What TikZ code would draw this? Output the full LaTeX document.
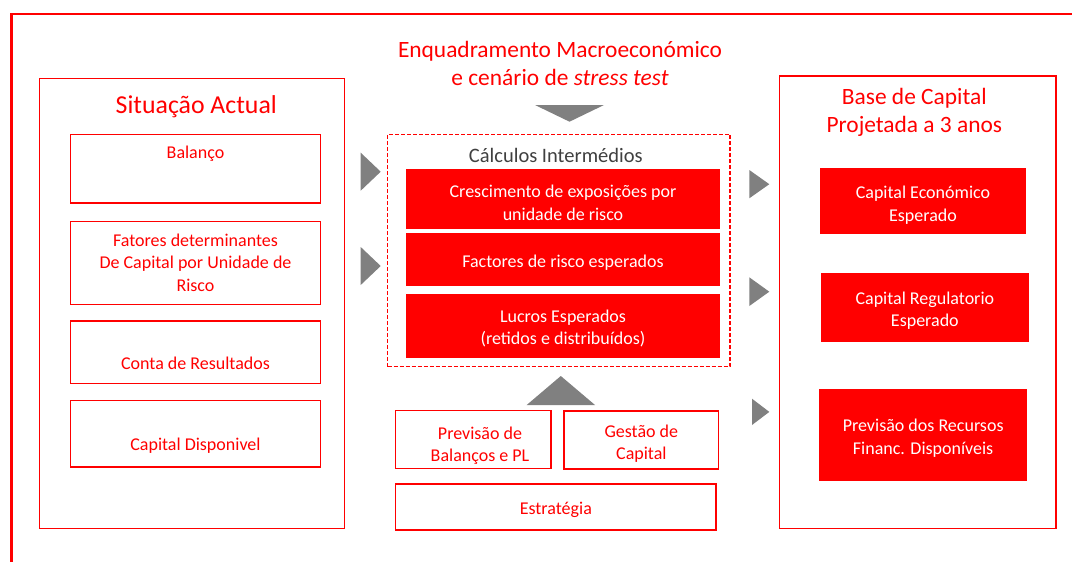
\documentclass[tikz,border=0pt]{standalone}
\usepackage{fontspec}
\setmainfont{Carlito}
\usepackage{tikz}
\usetikzlibrary{positioning,calc}

\definecolor{bpred}{RGB}{255,0,0}
\definecolor{arrowgray}{RGB}{128,128,128}
\definecolor{calcgray}{RGB}{64,64,64}

\begin{document}
\begin{tikzpicture}[
        x=1pt, y=-1pt,
        heading/.style={text=bpred, align=center, font=\fontsize{23.4}{28.3}\selectfont},
        redtext/.style={text=bpred, align=center, font=\fontsize{18}{22.5}\selectfont},
        lowered/.style={execute at begin node=\rule{0pt}{#1}},
        lowered/.default=19.5pt,
        redframe/.style={rectangle, draw=bpred, line width=1.5pt, inner sep=0pt, redtext},
        redbox/.style={rectangle, fill=bpred, inner sep=0pt, text=white, align=center, font=\fontsize{18}{22.5}\selectfont, lowered},
        pointer/.style={fill=arrowgray}
    ]
        \fill[white] (0,0) rectangle (1072,562);
        \useasboundingbox (0,0) rectangle (1072,562);

        % Frame
        \draw[bpred, line width=2.5pt] (11.5,562) -- (11.5,14) -- (1072,14);


        % Situacao Actual
        \node (actualbox) at (192.1,303.5) [redframe, minimum width=305.2pt, minimum height=449.6pt] {};
        \node (actual) at (196.3,113.3) [heading, anchor=base, font=\fontsize{25.8}{31}\selectfont] {Situação Actual};
            \node (balanco) at (195.5,168.75) [redframe, minimum width=249.6pt, minimum height=68.5pt] {};
            \node (balancotxt) at ($(balanco.center)+(0,-10.45)$) [redtext, anchor=base] {Balanço};
            \node (fatores) at (195.5,262.8) [redframe, minimum width=249.6pt, minimum height=83pt] {Fatores determinantes\\De Capital por Unidade de\\Risco};
            \node (conta) at (195.5,352.35) [redframe, minimum width=249.6pt, minimum height=62.7pt] {};
            \node (contatxt) at ($(conta.center)+(0,17)$) [redtext, anchor=base] {Conta de Resultados};
            \node (disponivel) at (195.5,433.85) [redframe, minimum width=249.6pt, minimum height=66.3pt] {};
            \node (disponiveltxt) at ($(disponivel.center)+(0,16.2)$) [redtext, anchor=base] {Capital Disponivel};


        % Enquadramento
        \node (enquadramento) at (560,63.5) [heading] {Enquadramento Macroeconómico\\e cenário de \textit{stress test}};


        % Calculos Intermedios
        \node (calculosbox) at (558.85,250.5) [rectangle, draw=bpred, line width=1.3pt, dash pattern=on 4pt off 2pt, minimum width=342.3pt, minimum height=232.4pt] {};
        \node (calculos) at (555.8,162.7) [anchor=base, text=calcgray, font=\fontsize{20.5}{24}\selectfont] {Cálculos Intermédios};
            \node (crescimento) at (563,199) [redbox, lowered=43pt, minimum width=314.6pt, minimum height=59.4pt] {Crescimento de exposições por\\unidade de risco};
            \node (factores) at (563,259.5) [redbox, minimum width=314.6pt, minimum height=52.4pt] {Factores de risco esperados};
            \node (lucros) at (563,326.3) [redbox, lowered=39pt, minimum width=314.6pt, minimum height=64pt] {Lucros Esperados\\(retidos e distribuídos)};


        % Previsao, Gestao, Estrategia
        \node (previsao) at (473.35,439.5) [redframe, minimum width=155.3pt, minimum height=57.6pt] {};
        \node (previsaotxt) at ($(previsao.center)+(6.65,6.2)$) [redtext] {Previsão de\\Balanços e PL};
        \node (gestao) at (641.35,440) [redframe, lowered=42.5pt, minimum width=154.7pt, minimum height=58pt] {Gestão de\\Capital};
        \node (estrategia) at (555.85,507) [redframe, lowered=17.5pt, minimum width=320.3pt, minimum height=46pt] {Estratégia};


        % Base de Capital
        \node (basebox) at (917.65,302.35) [redframe, minimum width=276.7pt, minimum height=452.7pt] {};
        \node (base) at (914.3,112.7) [heading] {Base de Capital\\Projetada a 3 anos};
            \node (economico) at (923,201.15) [redbox, lowered=43pt, minimum width=206pt, minimum height=66.3pt] {Capital Económico\\Esperado};
            \node (regulatorio) at (924.85,307.65) [redbox, lowered=41pt, minimum width=207.7pt, minimum height=68.7pt] {Capital Regulatorio\\Esperado};
            \node (recursos) at (923.15,434.85) [redbox, lowered=41.5pt, minimum width=207.7pt, minimum height=92.3pt] {Previsão dos Recursos\\Financ. Disponíveis};


        % Arrows
        \fill[pointer] (360.7,152.7) -- (380.7,171.7) -- (360.7,190.7) -- cycle;
        \fill[pointer] (360.7,247) -- (380.7,266) -- (360.7,285) -- cycle;
        \fill[pointer] (535,105) -- (604,105) -- (569.5,121.7) -- cycle;
        \fill[pointer] (526.7,405) -- (595,405) -- (560.8,376) -- cycle;
        \fill[pointer] (749.3,170) -- (769.3,184.2) -- (749.3,198.3) -- cycle;
        \fill[pointer] (749.3,277.3) -- (769.3,291.7) -- (749.3,306) -- cycle;
        \fill[pointer] (752,398.7) -- (769.3,411.9) -- (752,425) -- cycle;
    \end{tikzpicture}
\end{document}
